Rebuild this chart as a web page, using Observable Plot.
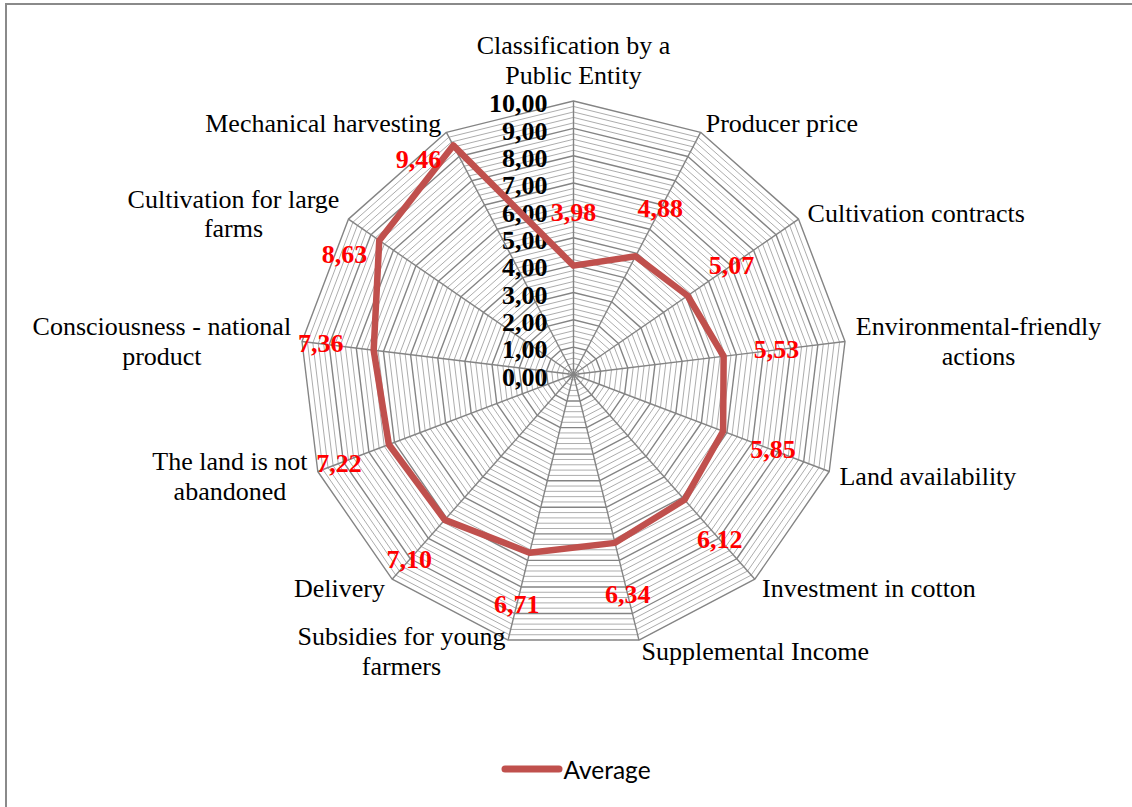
<!DOCTYPE html>
<html>
<head>
<meta charset="utf-8">
<script src="https://cdn.jsdelivr.net/npm/d3@7"></script>
<script src="https://cdn.jsdelivr.net/npm/@observablehq/plot@0.6"></script>
<style>
  html, body { margin: 0; padding: 0; background: #fff; overflow: hidden; }
  #frame { position: absolute; left: 5px; top: 3px; width: 1300px; height: 1000px; border: 2px solid #8a8a8a; box-sizing: border-box; }
  #chart { position: absolute; left: 0; top: 0; width: 1132px; }
  #legend { display: flex; align-items: center; justify-content: center; height: 30px; margin-top: 14px; padding-left: 20px;
            font-family: Lato, "Open Sans", sans-serif; font-size: 24.5px; color: #000; }
</style>
</head>
<body>
<div id="frame"></div>
<div id="chart"></div>
<script>
// ---- data ----
const categories = [
  "Classification by a\nPublic Entity",
  "Producer price",
  "Cultivation contracts",
  "Environmental-friendly\nactions",
  "Land availability",
  "Investment in cotton",
  "Supplemental Income",
  "Subsidies for young\nfarmers",
  "Delivery",
  "The land is not\nabandoned",
  "Consciousness - national\nproduct",
  "Cultivation for large\nfarms",
  "Mechanical harvesting"
];
const averages = [3.98, 4.88, 5.07, 5.53, 5.85, 6.12, 6.34, 6.71, 7.10, 7.22, 7.36, 8.63, 9.46];
const tickValues = [0, 1, 2, 3, 4, 5, 6, 7, 8, 9, 10];
const seriesName = "Average";

// ---- helpers ----
const n = categories.length;
const K = 27.35; // px per unit (matches scale ranges below)
const ang = i => 2 * Math.PI * i / n;
const px = (r, a) => r * Math.sin(a);
const py = (r, a) => r * Math.cos(a);
const fmt = v => d3.format(".2f")(v).replace(".", ",");
const serif = "'Liberation Serif', 'Times New Roman', serif";
const rows = categories.map((c, i) => ({category: c, value: averages[i], a: ang(i)}));

const minorLevels = d3.range(1, 51).map(k => k / 5).filter(v => Math.abs(v - Math.round(v)) > 1e-9);
const majorLevels = d3.range(1, 11);
const ring = levels => levels.flatMap(L => d3.range(n + 1).map(i => ({L, x: px(L, ang(i % n)), y: py(L, ang(i % n))})));

const ctx = document.createElement("canvas").getContext("2d");
ctx.font = "26px 'Liberation Serif'";
const blockW = s => d3.max(s.split("\n"), l => ctx.measureText(l).width);

const catX = d => {
  const s = Math.sin(d.a);
  const base = px(10.4, d.a);
  return Math.abs(s) < 1e-6 ? base : base + Math.sign(s) * blockW(d.category) / 2 / K;
};
const catY = d => py(10.4, d.a);

const inside = rows.filter(d => d.value + 1.95 <= 10.2);
const outside = rows.filter(d => d.value + 1.95 > 10.2);

const chart = Plot.plot({
  width: 1132,
  height: 740,
  margin: 0,
  x: {domain: [-10, 10], range: [573 - 273.5, 573 + 273.5], axis: null},
  y: {domain: [-10, 10], range: [374 + 273.5, 374 - 273.5], axis: null},
  style: {fontFamily: serif, background: "transparent", overflow: "visible"},
  marks: [
    Plot.line(ring(minorLevels), {x: "x", y: "y", z: "L", stroke: "#adadad", strokeWidth: 1}),
    Plot.line(ring(majorLevels), {x: "x", y: "y", z: "L", stroke: "#848484", strokeWidth: 1.4}),
    Plot.link(rows, {x1: 0, y1: 0, x2: d => px(10, d.a), y2: d => py(10, d.a), stroke: "#848484", strokeWidth: 1.4}),
    Plot.text(tickValues, {x: 0, y: d => d, text: d => fmt(d), textAnchor: "end", dx: -26, dy: 3,
      fontWeight: "bold", fontSize: 26, fill: "#000", fontFamily: serif}),
    Plot.line(rows, {x: d => px(d.value, d.a), y: d => py(d.value, d.a), curve: "linear-closed",
      stroke: "#C0504D", strokeWidth: 6.5, strokeLinejoin: "round"}),
    Plot.text(inside, {x: d => px(d.value + 1.95, d.a), y: d => py(d.value + 1.95, d.a), text: d => fmt(d.value),
      textAnchor: "middle", fontWeight: "bold", fontSize: 26, fill: "#FF0000", fontFamily: serif}),
    Plot.text(outside, {x: d => px(d.value, d.a), y: d => py(d.value, d.a), text: d => fmt(d.value),
      textAnchor: "end", dx: -12, dy: 14, fontWeight: "bold", fontSize: 26, fill: "#FF0000", fontFamily: serif}),
    Plot.text(rows.filter(d => Math.abs(Math.sin(d.a)) >= 1e-6), {x: catX, y: catY, text: "category",
      textAnchor: "middle", lineAnchor: "middle", lineHeight: 1.15, fontSize: 26, fill: "#000", fontFamily: serif}),
    Plot.text(rows.filter(d => Math.abs(Math.sin(d.a)) < 1e-6), {x: catX, y: catY, text: "category",
      textAnchor: "middle", lineAnchor: "bottom", lineHeight: 1.15, dy: -6, fontSize: 26, fill: "#000", fontFamily: serif})
  ]
});

const host = document.getElementById("chart");
host.appendChild(chart);

const legend = document.createElement("div");
legend.id = "legend";
legend.innerHTML = `<svg width="62" height="12" style="display:block"><line x1="4" y1="6" x2="58" y2="6" stroke="#C0504D" stroke-width="7" stroke-linecap="round"/></svg><span>${seriesName}</span>`;
host.appendChild(legend);
</script>
</body>
</html>
